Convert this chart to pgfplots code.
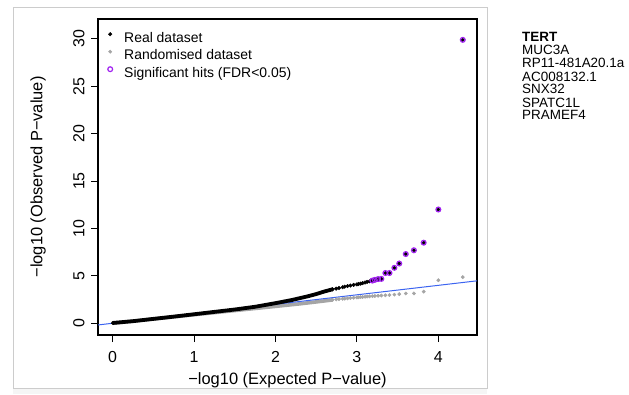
\documentclass[border=0pt]{standalone}
\usepackage{fontspec}
\setmainfont{Liberation Sans}
\usepackage{pgfplots}
\pgfplotsset{compat=1.18}
\definecolor{sigpurple}{RGB}{160,32,240}
\definecolor{qqblue}{RGB}{60,100,240}
\definecolor{randgray}{RGB}{165,165,165}
\begin{document}
\begin{tikzpicture}[x=1bp,y=1bp]
\path[use as bounding box] (0,0) rectangle (629,394);
\fill[black!4] (13,0) rectangle (487,6);
\draw[black!20, line width=0.8bp] (13,6) rectangle (487,387);
\begin{axis}[
  at={(98bp,59bp)}, anchor=south west,
  scale only axis, width=379bp, height=316bp,
  xmin=-0.18, xmax=4.475, ymin=-1.24, ymax=32.1,
  xtick={0,1,2,3,4}, ytick={0,5,10,15,20,25,30},
  tick pos=left,
  tick align=outside, major tick length=7bp,
  every tick/.style={black, line width=0.9bp},
  axis line style={line width=1.1bp},
  /pgf/number format/assume math mode=true,
  tick label style={font=\fontsize{16}{18}\selectfont},
  yticklabel style={rotate=90, anchor=south},
  xticklabel shift=6bp, yticklabel shift=3bp,
  xlabel={−log10 (Expected P−value)},
  ylabel={−log10 (Observed P−value)},
  label style={font=\fontsize{16.5}{19}\selectfont},
  xlabel style={at={(axis description cs:0.5,-0.142)}, anchor=center},
  ylabel style={at={(axis description cs:-0.158,0.5)}, anchor=center},
  legend style={at={(axis description cs:0,1)}, anchor=north west, draw=none, fill=none,
    xshift=6bp, yshift=-10bp,
    font=\fontsize{14}{16}\selectfont, inner sep=0pt, row sep=0.5bp, column sep=8bp,
    nodes={inner sep=0pt, text height=10bp, text depth=4bp}},
  legend image code/.code={\path[draw=none, fill=none] (0bp,0bp) rectangle (12bp,10bp); \draw[#1] plot coordinates {(6bp,5bp)};},
  legend cell align=left,
  clip=true,
]
% randomised dataset, dense part
\addplot[randgray, line width=3.6bp, line cap=round, forget plot] coordinates {
(0.00,0.00) (0.25,0.22) (0.50,0.45) (0.75,0.67) (1.00,0.90) (1.25,1.12) (1.50,1.34)
(1.75,1.56) (2.00,1.78) (2.30,2.05) (2.50,2.25) (2.70,2.46)};
% expected line
\addplot[qqblue, line width=1bp, forget plot] coordinates {(-0.18,-0.18) (4.475,4.475)};
% real dataset, dense part
\addplot[black, line width=3.8bp, line cap=round, forget plot] coordinates {
(0.00,0.03) (0.25,0.22) (0.50,0.46) (0.75,0.70) (1.00,0.95) (1.25,1.20) (1.50,1.45)
(1.75,1.74) (2.00,2.12) (2.20,2.45) (2.40,2.85) (2.50,3.08) (2.60,3.35) (2.70,3.58)};
% real dataset, tail
\addplot[only marks, mark=*, mark size=1.8bp, black, mark options={draw=black, fill=black}] coordinates {
(2.70,3.58) (2.745,3.65) (2.78,3.72) (2.825,3.80) (2.85,3.86) (2.885,3.92) (2.92,3.98)
(2.96,4.05) (3.00,4.10) (3.02,4.14) (3.045,4.18) (3.07,4.24) (3.10,4.30) (3.125,4.36)
(3.155,4.42) (3.19,4.50) (3.22,4.58) (3.26,4.66) (3.30,4.68) (3.35,5.30) (3.40,5.30)
(3.46,5.85) (3.52,6.30) (3.60,7.30) (3.70,7.70) (3.82,8.50) (4.00,12.0) (4.30,29.9)};
\addlegendentry{Real dataset}
% randomised dataset, tail
\addplot[only marks, mark=*, mark size=1.7bp, randgray, mark options={draw=randgray, fill=randgray}] coordinates {
(2.70,2.48) (2.745,2.52) (2.78,2.55) (2.825,2.58) (2.85,2.60) (2.885,2.63) (2.92,2.66)
(2.96,2.69) (3.00,2.72) (3.02,2.74) (3.045,2.76) (3.07,2.78) (3.10,2.80) (3.125,2.82)
(3.155,2.84) (3.19,2.86) (3.22,2.88) (3.26,2.90) (3.30,2.92) (3.35,2.95) (3.40,2.98)
(3.46,3.02) (3.52,3.08) (3.60,3.14) (3.70,3.15) (3.82,3.34) (4.00,4.54) (4.30,4.86)};
\addlegendentry{Randomised dataset}
% significant hits
\addplot[only marks, mark=o, mark size=2.4bp, sigpurple, mark options={line width=1.2bp}] coordinates {
(3.19,4.50) (3.22,4.58) (3.26,4.66) (3.30,4.68) (3.35,5.30) (3.40,5.30)
(3.46,5.85) (3.52,6.30) (3.60,7.30) (3.70,7.70) (3.82,8.50) (4.00,12.0) (4.30,29.9)};
\addlegendentry{Significant hits (FDR<0.05)}
\end{axis}
\begin{scope}[every node/.style={anchor=west, inner sep=0pt, font=\fontsize{13.5}{15}\selectfont}]
\node at (522,356.7) {\bfseries TERT};
\node at (522,343.7) {MUC3A};
\node at (522,330.7) {RP11-481A20.1a};
\node at (522,317.3) {AC008132.1};
\node at (522,304.7) {SNX32};
\node at (522,291.3) {SPATC1L};
\node at (522,278.7) {PRAMEF4};
\end{scope}
\end{tikzpicture}
\end{document}
